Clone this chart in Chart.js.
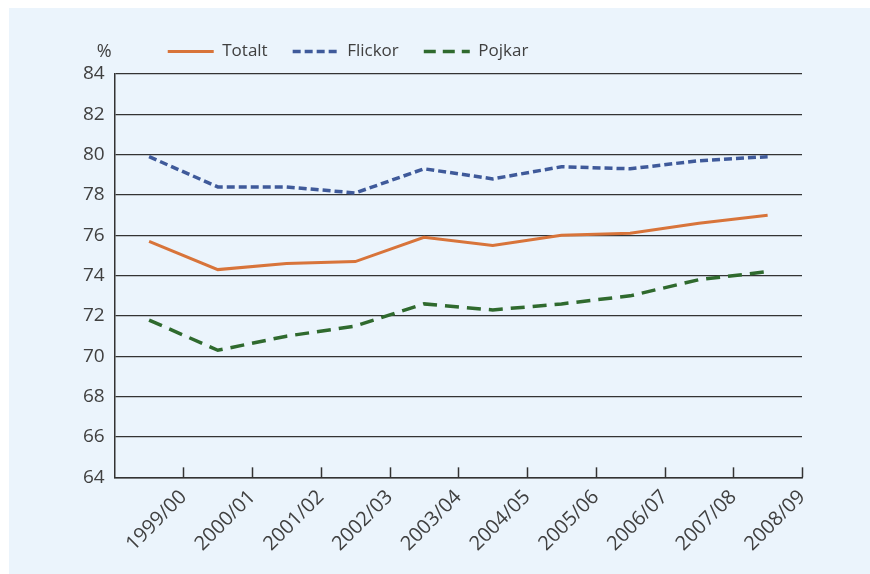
<!DOCTYPE html>
<html>
<head>
<meta charset="utf-8">
<script src="https://cdn.jsdelivr.net/npm/chart.js@4/dist/chart.umd.min.js"></script>
<style>
  body { margin: 0; background: #ffffff; }
  #box { position: absolute; left: 9px; top: 8px; width: 861px; height: 566px; background: #ebf4fc; }
</style>
</head>
<body>
<div id="box"><canvas id="myChart" width="861" height="566"></canvas></div>
<script>
const years = ['1999/00', '2000/01', '2001/02', '2002/03', '2003/04', '2004/05', '2005/06', '2006/07', '2007/08', '2008/09'];
const totalt = [75.7, 74.3, 74.6, 74.7, 75.9, 75.5, 76.0, 76.1, 76.6, 77.0];
const flickor = [79.9, 78.4, 78.4, 78.1, 79.3, 78.8, 79.4, 79.3, 79.7, 79.9];
const pojkar = [71.8, 70.3, 71.0, 71.5, 72.6, 72.3, 72.6, 73.0, 73.8, 74.2];
const yTicks = [64, 66, 68, 70, 72, 74, 76, 78, 80, 82, 84];

const ink = '#333333';
const textColor = '#404040';
const fontFamily = "'Open Sans', 'Noto Sans', sans-serif";

// each value sits in the middle of its year slot
function points(values) {
    return values.map(function(v, i) { return { x: i + 0.5, y: v }; });
}

// tick marks pointing up into the plot, plus the % unit label
const extras = {
    id: 'extras',
    afterLayout: function(chart) {
        chart.legend.left += 28;
        chart.legend.right += 28;
        chart.legend.top -= 4;
        chart.legend.bottom -= 4;
    },
    afterDraw: function(chart) {
        const ctx = chart.ctx;
        const xs = chart.scales.x;
        const area = chart.chartArea;
        ctx.save();
        ctx.strokeStyle = ink;
        ctx.lineWidth = 1.5;
        for (let i = 1; i <= years.length; i++) {
            const px = Math.round(xs.getPixelForValue(i)) + 0.5;
            ctx.beginPath();
            ctx.moveTo(px, area.bottom);
            ctx.lineTo(px, area.bottom - 10);
            ctx.stroke();
        }
        ctx.fillStyle = textColor;
        ctx.font = '18px ' + fontFamily;
        ctx.textAlign = 'right';
        ctx.textBaseline = 'middle';
        ctx.fillText('%', area.left - 3, area.top - 22);
        ctx.restore();
    }
};

new Chart(document.getElementById('myChart'), {
    type: 'line',
    data: {
        datasets: [{
            label: 'Totalt',
            data: points(totalt),
            borderColor: '#d8743a',
            backgroundColor: '#d8743a',
            borderWidth: 3
        }, {
            label: 'Flickor',
            data: points(flickor),
            borderColor: '#3f5a9a',
            backgroundColor: '#3f5a9a',
            borderWidth: 3.5,
            borderDash: [8, 4]
        }, {
            label: 'Pojkar',
            data: points(pojkar),
            borderColor: '#2f6a2e',
            backgroundColor: '#2f6a2e',
            borderWidth: 3.5,
            borderDash: [14, 8]
        }]
    },
    options: {
        responsive: false,
        animation: false,
        tension: 0,
        elements: { point: { radius: 0 } },
        layout: { padding: { left: 64, right: 68, top: 14, bottom: 10 } },
        plugins: {
            tooltip: { enabled: false },
            legend: {
                position: 'top',
                align: 'start',
                fullSize: false,
                labels: {
                    usePointStyle: true,
                    pointStyle: 'line',
                    pointStyleWidth: 46,
                    boxHeight: 4,
                    padding: 25,
                    color: textColor,
                    font: { family: fontFamily, size: 17 },
                    generateLabels: function(chart) {
                        const items = Chart.defaults.plugins.legend.labels.generateLabels(chart);
                        items.forEach(function(item) {
                            const ds = chart.data.datasets[item.datasetIndex];
                            item.lineDash = ds.label === 'Pojkar' ? [12, 7] : (ds.borderDash || []);
                            item.lineWidth = ds.borderWidth;
                            item.strokeStyle = ds.borderColor;
                        });
                        return items;
                    }
                }
            }
        },
        scales: {
            x: {
                type: 'linear',
                min: 0,
                max: years.length,
                afterBuildTicks: function(scale) {
                    scale.ticks = years.map(function(y, i) { return { value: i + 1 }; });
                },
                ticks: {
                    autoSkip: false,
                    minRotation: 45,
                    maxRotation: 45,
                    padding: 8,
                    color: textColor,
                    font: { family: fontFamily, size: 20 },
                    callback: function(value) { return years[value - 1]; }
                },
                grid: { display: false, drawTicks: false },
                border: { display: true, color: ink, width: 1.5 }
            },
            y: {
                min: 64,
                max: 84,
                afterBuildTicks: function(scale) {
                    scale.ticks = yTicks.map(function(v) { return { value: v }; });
                },
                ticks: {
                    padding: 10,
                    color: textColor,
                    font: { family: fontFamily, size: 19 }
                },
                grid: { color: ink, lineWidth: 1.3, drawTicks: false },
                border: { display: true, color: ink, width: 1.5 }
            }
        }
    },
    plugins: [extras]
});
</script>
</body>
</html>
